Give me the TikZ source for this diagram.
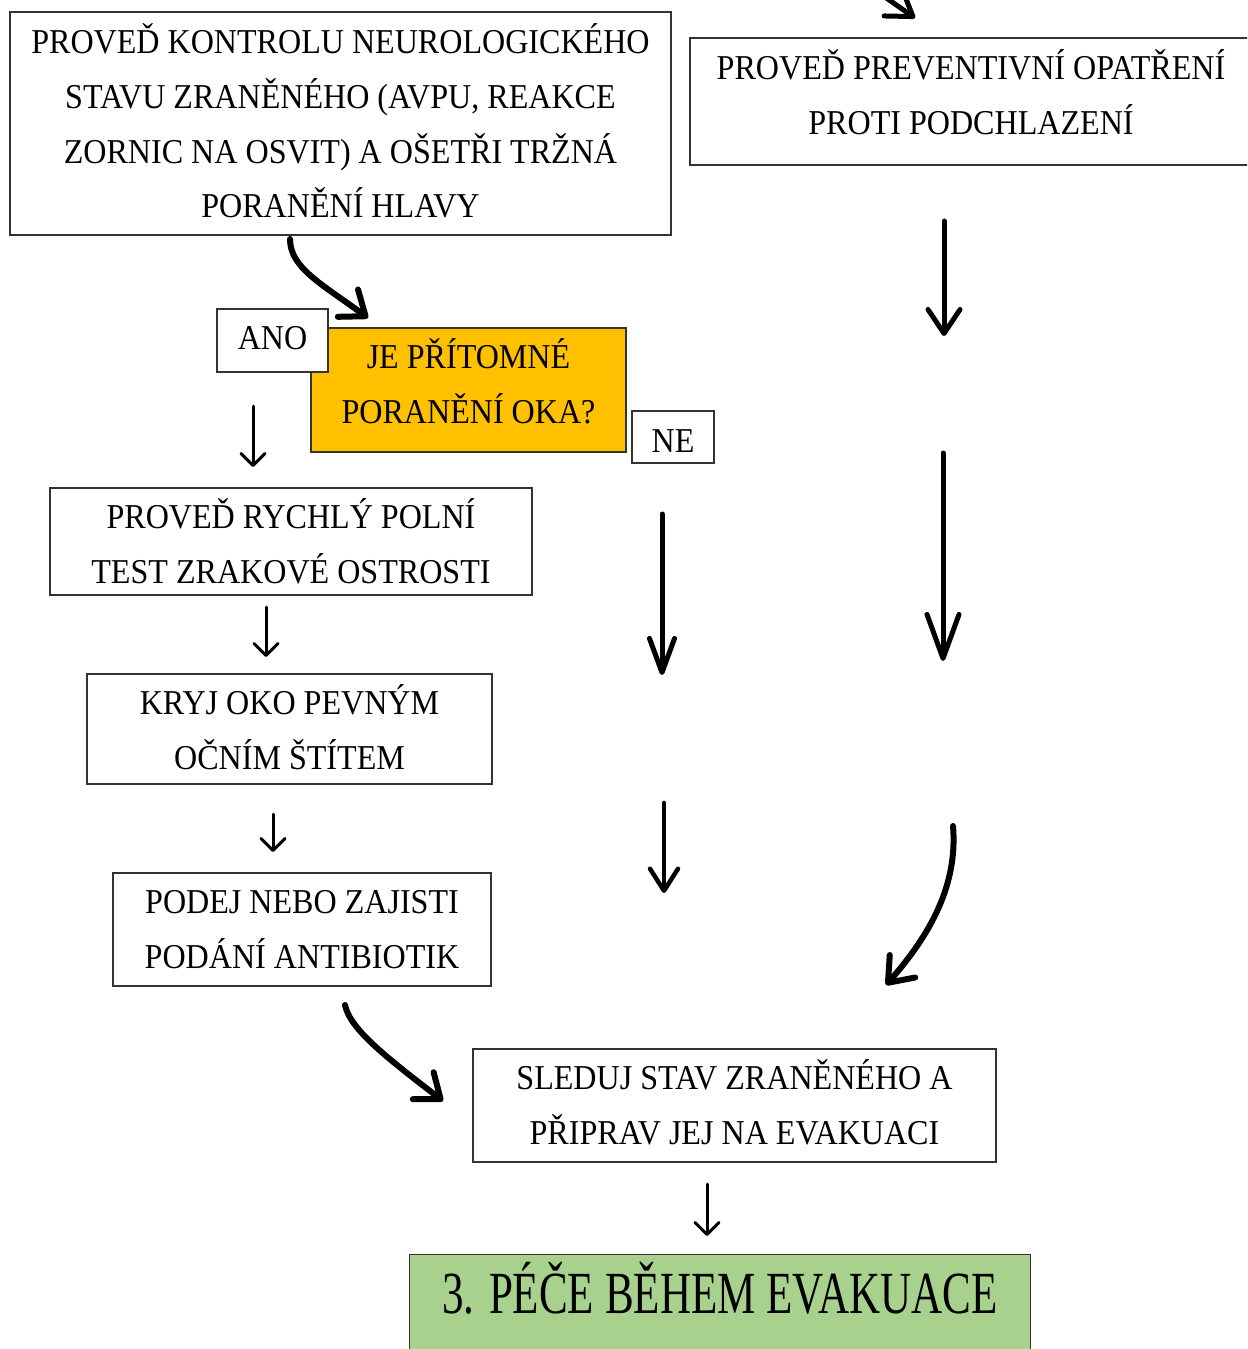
\documentclass[tikz,border=0pt]{standalone}
\usepackage{fontspec}
\setmainfont[FakeStretch=0.92]{Liberation Serif}
\newfontfamily\titlefont[FakeStretch=0.72]{Liberation Serif}
\usetikzlibrary{arrows.meta}
\definecolor{decision}{HTML}{FFC000}
\definecolor{phase}{HTML}{A9D18E}
\tikzset{
  box/.style={draw=black!80, line width=1.2bp, fill=white, inner sep=0pt},
  txt/.style={align=center, inner sep=0pt, font=\fontsize{35}{55}\selectfont},
  thinarrow/.style={line width=3bp, line cap=round,
    -{Straight Barb[length=12bp,width=24bp,round]}},
  boldarrow/.style={line width=5bp, line cap=round,
    -{Straight Barb[length=24bp,width=32bp,round]}},
  slimarrow/.style={line width=5bp, line cap=round,
    -{Straight Barb[length=34bp,width=25bp,round]}},
  longarrow/.style={line width=5bp, line cap=round,
    -{Straight Barb[length=44bp,width=32bp,round]}},
  curvearrow/.style={line width=6bp, line cap=round,
    -{Straight Barb[length=22bp,width=34bp,round]}},
}
\begin{document}
\begin{tikzpicture}[x=1bp,y=-1bp]
\useasboundingbox (0,0) rectangle (1247,1349);
\clip (0,0) rectangle (1247,1349);

% boxes
\node[box, minimum width=661bp, minimum height=223bp] (neuro) at (340.5,123.5) {};
\node[box, minimum width=562bp, minimum height=127bp] (cold) at (971,101.5) {};
\node[box, fill=decision, minimum width=315bp, minimum height=124bp] (eye) at (468.5,390) {};
\node[box, minimum width=111bp, minimum height=63bp] (yes) at (272.5,340.5) {};
\node[box, minimum width=82bp, minimum height=52bp] (no) at (673,437) {};
\node[box, minimum width=482bp, minimum height=107bp] (visus) at (291,541.5) {};
\node[box, minimum width=405bp, minimum height=110bp] (shield) at (289.5,729) {};
\node[box, minimum width=378bp, minimum height=113bp] (abx) at (302,929.5) {};
\node[box, minimum width=523bp, minimum height=113bp] (watch) at (734.5,1105.5) {};
\node[box, fill=phase, minimum width=621bp, minimum height=140bp, anchor=north west] (phase) at (409,1254) {};

% texts
\node[txt, yshift=2.5bp] (neuro-t) at (neuro)
  {PROVEĎ KONTROLU NEUROLOGICKÉHO\\STAVU ZRANĚNÉHO (AVPU, REAKCE\\ZORNIC NA OSVIT) A OŠETŘI TRŽNÁ\\PORANĚNÍ HLAVY};
\node[txt, yshift=9.5bp] (cold-t) at (cold) {PROVEĎ PREVENTIVNÍ OPATŘENÍ\\PROTI PODCHLAZENÍ};
\node[txt, yshift=8.5bp] (eye-t) at (eye) {JE PŘÍTOMNÉ\\PORANĚNÍ OKA?};
\node[txt, yshift=2bp] (yes-t) at (yes) {ANO};
\node[txt, yshift=-4bp] (no-t) at (no) {NE};
\node[txt, yshift=0.5bp] (visus-t) at (visus) {PROVEĎ RYCHLÝ POLNÍ\\TEST ZRAKOVÉ OSTROSTI};
\node[txt, yshift=2bp] (shield-t) at (shield) {KRYJ OKO PEVNÝM\\OČNÍM ŠTÍTEM};
\node[txt] (abx-t) at (abx) {PODEJ NEBO ZAJISTI\\PODÁNÍ ANTIBIOTIK};
\node[txt, yshift=3bp] (watch-t) at (watch) {SLEDUJ STAV ZRANĚNÉHO A\\PŘIPRAV JEJ NA EVAKUACI};
\node[anchor=base, inner sep=0pt, font=\titlefont\fontsize{60}{60}\selectfont] (phase-t) at (720,1313)
  {3. PÉČE BĚHEM EVAKUACE};

% connector end points
\coordinate (t0) at (872,-12);   \coordinate (t1) at (915,18);
\coordinate (a0) at (290,239);   \coordinate (a1) at (368,318);
\coordinate (y0) at (253,406);   \coordinate (y1) at (253,467);
\coordinate (v0) at (266,607);   \coordinate (v1) at (266,657);
\coordinate (s0) at (273,814);   \coordinate (s1) at (273,852);
\coordinate (b0) at (345,1005);  \coordinate (b1) at (443,1101);
\coordinate (w0) at (707,1184);  \coordinate (w1) at (707,1236);
\coordinate (n0) at (662,514);   \coordinate (n1) at (662,675);
\coordinate (m0) at (664,803);   \coordinate (m1) at (664,893);
\coordinate (r0) at (944,221);   \coordinate (r1) at (944,336);
\coordinate (q0) at (943,453);   \coordinate (q1) at (943,661);
\coordinate (c0) at (953,826);   \coordinate (c1) at (886,985);

% connectors
\draw[boldarrow] (t0) -- (t1);
\draw[curvearrow] (a0) .. controls (290,268) and (322,284) .. (a1);
\draw[thinarrow] (y0) -- (y1);
\draw[thinarrow] (v0) -- (v1);
\draw[thinarrow] (s0) -- (s1);
\draw[curvearrow] (b0) .. controls (350,1030) and (390,1060) .. (b1);
\draw[thinarrow] (w0) -- (w1);
\draw[slimarrow] (n0) -- (n1);
\draw[line width=4.5bp, line cap=round, -{Straight Barb[length=22bp,width=28bp,round]}] (m0) -- (m1);
\draw[boldarrow] (r0) -- (r1);
\draw[longarrow] (q0) -- (q1);
\draw[curvearrow] (c0) .. controls (958,885) and (930,935) .. (c1);
\end{tikzpicture}
\end{document}
